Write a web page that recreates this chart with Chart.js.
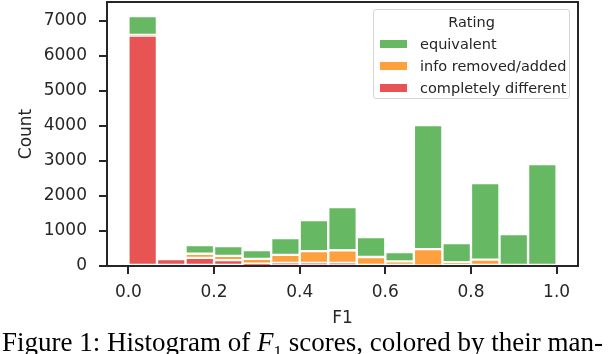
<!DOCTYPE html>
<html>
<head>
<meta charset="utf-8">
<script src="https://cdn.jsdelivr.net/npm/chart.js@4"></script>
<style>
  html, body { margin: 0; padding: 0; background: #fff; }
  #wrap { position: relative; width: 610px; height: 354px; overflow: hidden; }
  #chart { position: absolute; left: 0; top: 0; }
  #legend {
    position: absolute; left: 373px; top: 9px; width: 197px; height: 90px;
    border: 1px solid #d6d6d6; border-radius: 3px; background: rgba(255,255,255,0.85);
    font-family: "DejaVu Sans", sans-serif; font-size: 14.5px; color: #262626;
    box-sizing: border-box;
  }
  #legend .title { position: absolute; left: 0; right: 0; top: 4px; text-align: center; }
  #legend .row { position: absolute; left: 6px; height: 18px; line-height: 18px; white-space: nowrap; }
  #legend .sw { display: inline-block; width: 27px; height: 8px; vertical-align: middle; margin-right: 13px; position: relative; top: -1px; }
  #caption {
    position: absolute; left: 2px; top: 327px; white-space: nowrap;
    font-family: "Liberation Serif", "Times New Roman", serif; font-size: 27px; color: #000;
  }
</style>
</head>
<body>
<div id="wrap">
  <canvas id="chart" width="610" height="354"></canvas>
  <div id="legend"><div class="title">Rating</div></div>
  <div id="caption">Figure 1: Histogram of <i>F</i><sub style="font-size:17px">1</sub> scores, colored by their man-</div>
</div>
<script>
// 15 przedziałów F1 od 0 do 1
const binCenters = [0.0333, 0.1, 0.1667, 0.2333, 0.3, 0.3667, 0.4333, 0.5, 0.5667, 0.6333, 0.7, 0.7667, 0.8333, 0.9, 0.9667];
const completelyDifferent = [6580, 200, 230, 170, 65, 90, 90, 90, 0, 0, 10, 0, 0, 0, 0];
const infoRemovedAdded = [20, 0, 120, 120, 140, 230, 335, 360, 257, 130, 470, 110, 180, 30, 0];
const equivalent = [543, 0, 250, 280, 252, 480, 889, 1236, 572, 270, 3549, 547, 2191, 884, 2914];
const xTicks = [0, 0.2, 0.4, 0.6, 0.8, 1.0];
const yTicks = [0, 1000, 2000, 3000, 4000, 5000, 6000, 7000];

const colors = { green: '#66b962', orange: '#ffa03f', red: '#e85454' };
const ink = '#262626';

const series = [
  { label: 'completely different', values: completelyDifferent, color: colors.red },
  { label: 'info removed/added', values: infoRemovedAdded, color: colors.orange },
  { label: 'equivalent', values: equivalent, color: colors.green }
];

// Legenda w HTML (kolejność odwrotna do stosu)
const legend = document.getElementById('legend');
series.slice().reverse().forEach((s, i) => {
  const row = document.createElement('div');
  row.className = 'row';
  row.style.top = (25 + i * 22) + 'px';
  row.innerHTML = `<span class="sw" style="background:${s.color}"></span>${s.label}`;
  legend.appendChild(row);
});

// Ramka dookoła obszaru wykresu (górna i prawa krawędź)
const frame = {
  id: 'frame',
  afterDraw(chart) {
    const a = chart.chartArea;
    const ctx = chart.ctx;
    ctx.save();
    ctx.strokeStyle = ink;
    ctx.lineWidth = 2;
    ctx.strokeRect(a.left, a.top, a.right - a.left, a.bottom - a.top);
    ctx.restore();
  }
};

const font = { family: '"DejaVu Sans", sans-serif', size: 17 };

new Chart(document.getElementById('chart'), {
  type: 'bar',
  data: {
    datasets: series.map(s => ({
      label: s.label,
      data: binCenters.map((x, i) => ({ x: x, y: s.values[i] })),
      backgroundColor: s.color,
      borderColor: '#ffffff',
      borderWidth: 1.5,
      borderSkipped: false,
      barPercentage: 1,
      categoryPercentage: 1
    }))
  },
  options: {
    responsive: false,
    animation: false,
    layout: { padding: { top: 2, right: 32, left: 0, bottom: 25 } },
    plugins: { legend: { display: false }, tooltip: { enabled: false } },
    scales: {
      x: {
        type: 'linear',
        stacked: true,
        offset: false,
        min: -0.05,
        max: 1.05,
        afterBuildTicks: axis => { axis.ticks = xTicks.map(v => ({ value: v })); },
        afterFit: axis => { axis.height = 63; },
        ticks: { font: font, color: ink, padding: 8, callback: v => v.toFixed(1) },
        grid: { display: true, offset: false, drawOnChartArea: false, tickLength: 8, lineWidth: 2, color: ink },
        border: { display: true, color: ink, width: 2 },
        title: { display: true, text: 'F1', font: font, color: ink, padding: { top: 7, bottom: 0 } }
      },
      y: {
        stacked: true,
        min: 0,
        max: 7543,
        afterBuildTicks: axis => { axis.ticks = yTicks.map(v => ({ value: v })); },
        afterFit: axis => {
          axis.width = 107;
          // bez dodatkowego marginesu na pół etykiety u góry
          axis.paddingTop = 0;
          axis.paddingBottom = 0;
        },
        ticks: { font: font, color: ink, padding: 12, callback: v => String(v) },
        grid: { display: true, drawOnChartArea: false, tickLength: 8, lineWidth: 2, color: ink },
        border: { display: true, color: ink, width: 2 },
        title: { display: true, text: 'Count', font: font, color: ink, padding: { top: 16, bottom: 0 } }
      }
    }
  },
  plugins: [frame]
});
</script>
</body>
</html>
